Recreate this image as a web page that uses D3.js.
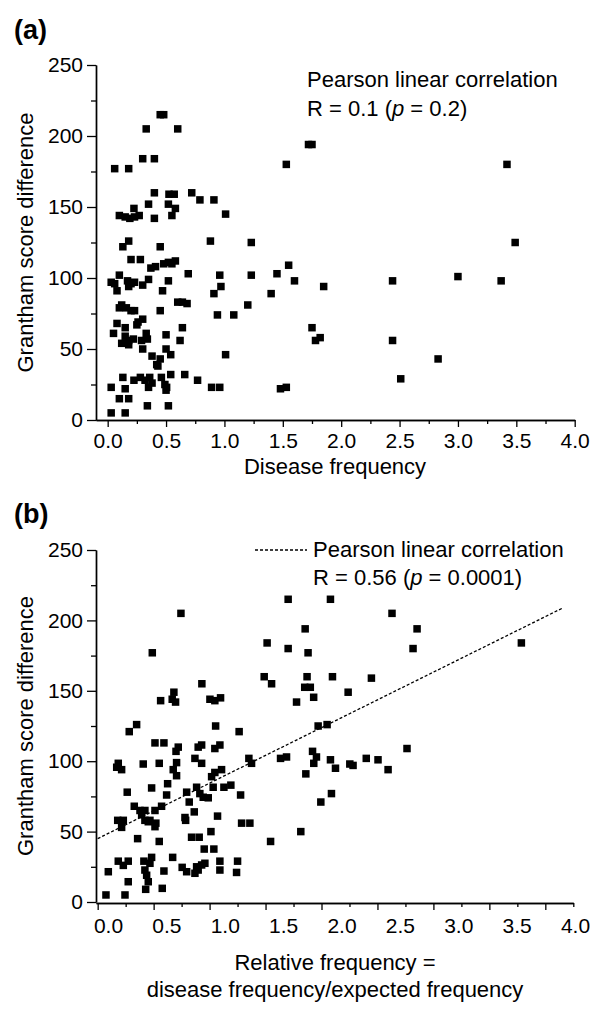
<!DOCTYPE html>
<html><head><meta charset="utf-8">
<script src="https://cdn.jsdelivr.net/npm/d3@7"></script>
<style>
body{margin:0;background:#fff;}
svg text{font-family:"Liberation Sans",Arial,sans-serif;fill:#000;}
</style></head>
<body>
<svg id="c" width="600" height="1020"></svg>
<script>
// ---- data ----
const aFreq = [0.45,0.48,0.33,0.60,0.30,0.40,0.06,0.18,
 0.40,0.525,0.57,0.72,0.79,0.91,0.35,0.52,0.58,0.225,
 0.10,0.15,0.19,0.23,0.27,0.40,0.55,1.01,
 0.13,0.18,0.45,0.88,1.23,
 0.20,0.28,0.37,0.41,0.48,0.52,0.55,0.58,
 0.69,0.96,1.23,
 0.03,0.06,0.10,0.08,0.17,0.20,0.23,0.18,0.30,0.35,0.52,0.47,0.97,0.91,
 1.20,0.94,1.08,0.60,0.64,0.68,0.45,
 0.12,0.10,0.16,0.20,0.23,
 0.08,0.26,0.30,0.25,
 0.05,0.15,0.15,0.18,0.22,0.12,0.18,
 0.33,0.34,0.29,0.30,
 0.64,0.50,0.62,0.50,0.54,1.01,
 0.38,0.45,0.43,0.42,
 0.13,0.225,0.28,0.32,0.36,0.38,0.35,
 0.46,0.49,0.505,0.50,0.54,0.66,0.77,0.89,0.96,
 0.03,0.15,0.10,0.18,0.34,0.52,0.03,0.15,
 1.72,1.75,1.53,1.55,1.45,1.60,1.85,1.40,1.75,1.78,1.82,1.48,1.53,
 3.42,3.49,2.44,3.00,3.37,2.44,2.83,2.51];
const aScore = [215,215,205,205,184,184,177,177,
 160,159,159,160,155,155,152,152,149,149,
 144,143,142,143,144,142,144,145,
 122,126,122,126,125,
 113,113,107,108,110,111,110,112,
 103,102,102,
 97,96,102,91,98,96,97,94,95,99,98,91,94,89,
 81,74,74,83,83,82,77,
 81,79,79,77,77,
 68,69,71,67,
 61,65,59,56,57,54,53,
 61,57,56,50,
 65,60,56,50,46,46,
 45,43,38,39,
 30,28,30,28,30,26,23,
 30,25,23,21,32,32,28,23,23,
 23,22,15,15,10,10,5,5,
 194,194,180,109,103,98,94,89,65,56,58,22,23,
 180,125,98,101,98,56,43,29];

const bRel = [0.744,0.488,0.931,0.681,0.5625,0.666,0.696,1.003,1.047,1.098,0.282,0.348,1.054,1.264,
 0.512,0.592,0.72,0.70,0.929,0.898,1.092,1.047,
 0.184,0.214,0.17,0.407,0.55,0.705,0.675,0.705,0.869,0.929,1.107,1.047,1.018,1.351,1.375,
 0.625,0.616,0.264,0.482,0.795,0.818,0.884,0.913,0.943,0.988,1.032,1.128,1.19,1.277,
 0.327,0.378,0.422,0.393,0.422,0.467,0.512,0.571,0.452,0.512,0.52,0.179,0.229,0.214,0.863,0.78,0.786,1.071,1.286,1.36,
 0.357,0.55,0.839,0.907,1.012,0.952,1.038,
 0.184,0.273,0.229,0.095,0.413,0.482,0.467,0.422,0.4375,0.452,0.429,0.592,0.67,0.755,0.795,0.884,0.929,0.958,0.869,0.898,1.092,1.092,1.25,1.241,0.273,0.577,0.074,0.244,
 1.702,2.08,2.63,2.854,1.854,1.514,1.702,1.88,2.818,1.488,1.554,1.871,2.098,2.446,1.85,1.90,1.93,2.238,1.777,1.97,2.05,
 1.634,1.6875,1.92,1.955,1.931,1.86,2.08,2.125,2.253,2.282,2.40,2.505,2.595,2.764,1.994,2.089,1.815,1.545,3.786];
const bScore = [205,177,155,149,143,144,142,144,143,145,121,126,125,121,
 113,113,110,107,111.5,110,111.5,109,
 98.5,94,95.7,98,98.5,99,94,89.7,102,98.5,94,92,89,102,98.5,
 84,76,78,81,78,71,81.5,77,74.4,74,81.5,81.5,83,76,
 68,65,65,62,58,58,65,68,57,53.5,56,58,58,53,64,60,58,61,56,56,
 45,43,46,46,50,37.6,37.6,
 29,29,26,21.5,29,31.7,27.5,22.7,19,14.4,9,22,31.7,24.6,21.5,25,26.3,27.5,20.4,22.7,29,22.7,29,21,14.4,9.7,5,5,
 215,215,205,194,194,184,180,177,180,160,155,160,160,159,152.5,152.5,145.4,149,142,125,126,
 102,103,107,103,98.5,91,101,95,98,97,102,101,94,109,71,77,50,43,184];

const fitX = [0, 4.15];
const fitY = [45, 208.6];

const xMajor = [0,0.5,1,1.5,2,2.5,3,3.5,4];
const xMinor = [0.25,0.75,1.25,1.75,2.25,2.75,3.25,3.75];
const xMinorB = [0.25,0.75,1.25,1.75,2.25,2.75,3.25,3.75,4.25];
const yMajor = [0,50,100,150,200,250];
const yMinor = [25,75,125,175,225];

// ---- drawing ----
const svg = d3.select("#c");
const FS = 21;
const fmt = d3.format(".1f");

function styleAxis(g){
  g.selectAll("path.domain").attr("stroke","#000").attr("stroke-width",1.4);
  g.selectAll(".tick line").attr("stroke","#000").attr("stroke-width",1.3);
  g.selectAll(".tick text").style("font-size",FS+"px").attr("fill","#000");
}

function yAxes(y, x0){
  svg.append("g").attr("transform",`translate(${x0},0)`)
    .call(d3.axisLeft(y).tickValues(yMinor).tickSize(5).tickFormat("").tickSizeOuter(0))
    .call(styleAxis);
  svg.append("g").attr("transform",`translate(${x0},0)`)
    .call(d3.axisLeft(y).tickValues(yMajor).tickSize(9).tickPadding(4).tickSizeOuter(0))
    .call(styleAxis);
}

const SQ = 7.5;
function squares(xs, ys, x, y){
  svg.append("g").selectAll("rect").data(xs.map((d,i)=>[d,ys[i]])).join("rect")
    .attr("x",d=>x(d[0])-SQ/2).attr("y",d=>y(d[1])-SQ/2)
    .attr("width",SQ).attr("height",SQ).attr("fill","#000");
}

// Panel (a)
const xA = d3.scaleLinear().domain([-0.1,4]).range([96,574.7]);
const yA = d3.scaleLinear().domain([0,250]).range([420,65]);
svg.append("g").attr("transform","translate(0,420)")
  .call(d3.axisBottom(xA).tickValues(xMinor).tickSize(4).tickFormat("").tickSizeOuter(0))
  .call(styleAxis);
svg.append("g").attr("transform","translate(0,420)")
  .call(d3.axisBottom(xA).tickValues(xMajor).tickSize(7).tickPadding(6).tickFormat(fmt).tickSizeOuter(0))
  .call(styleAxis);
yAxes(yA, 96);
squares(aFreq, aScore, xA, yA);

svg.append("text").attr("x",14).attr("y",39).style("font-size","27px").style("font-weight","bold").text("(a)");
svg.append("text").attr("transform",`translate(33,${(65+420)/2}) rotate(-90)`).attr("text-anchor","middle")
  .style("font-size","22px").text("Grantham score difference");
svg.append("text").attr("x",335).attr("y",474).attr("text-anchor","middle").style("font-size","22px").text("Disease frequency");
svg.append("text").attr("x",307).attr("y",87).style("font-size","22px").text("Pearson linear correlation");
const tA = svg.append("text").attr("x",307).attr("y",116).style("font-size","22px");
tA.append("tspan").text("R = 0.1 (");
tA.append("tspan").style("font-style","italic").text("p");
tA.append("tspan").text(" = 0.2)");

// Panel (b)
const xB = d3.scaleLinear().domain([-0.015,4.25]).range([96,573.3]);
const xBL = d3.scaleLinear().domain([0,4]).range([108,575]);
const yB = d3.scaleLinear().domain([0,250]).range([902,550]);
svg.append("g").attr("transform","translate(0,903)")
  .call(d3.axisBottom(xB).tickValues(xMinorB).tickSize(4).tickFormat("").tickSizeOuter(0))
  .call(styleAxis);
svg.append("g").attr("transform","translate(0,903)")
  .call(d3.axisBottom(xB).tickValues(xMajor).tickSize(7).tickFormat("").tickSizeOuter(0))
  .call(styleAxis);
const lab = svg.append("g").attr("transform","translate(0,903)")
  .call(d3.axisBottom(xBL).tickValues(xMajor).tickSize(0).tickPadding(15).tickFormat(fmt))
  .call(styleAxis);
lab.select("path.domain").remove();
lab.selectAll(".tick line").remove();
yAxes(yB, 96);
squares(bRel, bScore, xB, yB);

svg.append("line").attr("x1",xB(fitX[0])).attr("y1",yB(fitY[0])).attr("x2",xB(fitX[1])).attr("y2",yB(fitY[1]))
  .attr("stroke","#000").attr("stroke-width",1.3).attr("stroke-dasharray","3,2");

svg.append("text").attr("x",14).attr("y",523).style("font-size","27px").style("font-weight","bold").text("(b)");
svg.append("text").attr("transform",`translate(33,${(550+902)/2}) rotate(-90)`).attr("text-anchor","middle")
  .style("font-size","22px").text("Grantham score difference");
svg.append("text").attr("x",335).attr("y",970).attr("text-anchor","middle").style("font-size","22px").text("Relative frequency =");
svg.append("text").attr("x",335).attr("y",997).attr("text-anchor","middle").style("font-size","22px").text("disease frequency/expected frequency");
svg.append("line").attr("x1",255).attr("x2",307).attr("y1",550).attr("y2",550)
  .attr("stroke","#000").attr("stroke-width",1.3).attr("stroke-dasharray","3,2");
svg.append("text").attr("x",313).attr("y",557).style("font-size","22px").text("Pearson linear correlation");
const tB = svg.append("text").attr("x",313).attr("y",585).style("font-size","22px");
tB.append("tspan").text("R = 0.56 (");
tB.append("tspan").style("font-style","italic").text("p");
tB.append("tspan").text(" = 0.0001)");
</script>
</body></html>
